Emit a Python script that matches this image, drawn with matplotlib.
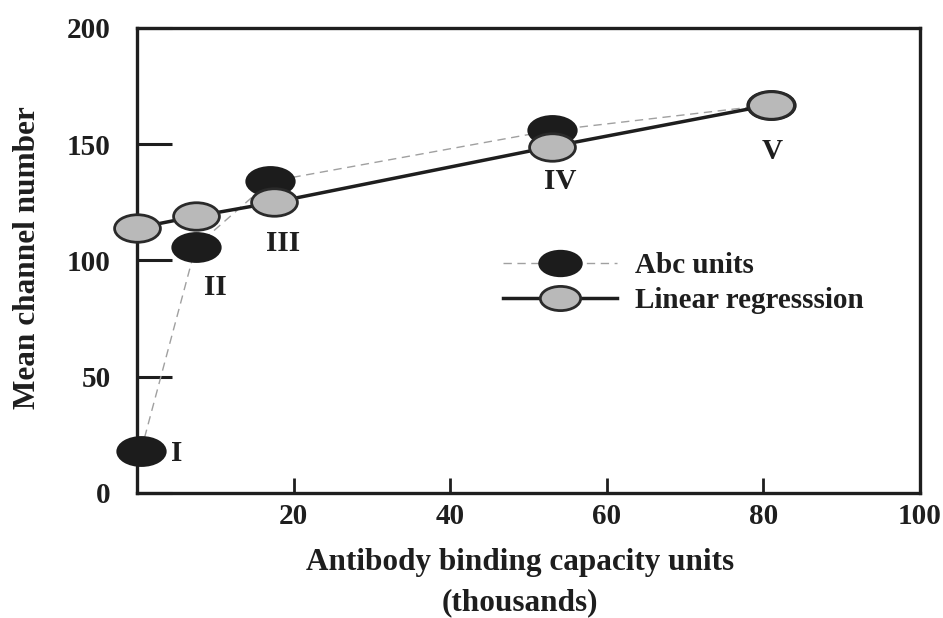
import matplotlib
matplotlib.use('Agg')
import matplotlib.pyplot as plt
from matplotlib.path import Path
from matplotlib.transforms import Affine2D

plt.rcParams['font.family'] = 'Liberation Serif'
plt.rcParams['font.weight'] = 'bold'
plt.rcParams['axes.labelweight'] = 'bold'

# antibody binding capacity (thousands) and mean channel number
abc_x = [0.5, 7.5, 17, 53, 81]
abc_y = [18, 106, 134, 156, 167]
reg_x = [0, 7.5, 17.5, 53, 81]
reg_y = [114, 119, 125, 149, 167]

# bead population names and where they are written
point_labels = ['I', 'II', 'III', 'IV', 'V']
label_x = [5.1, 10.0, 18.6, 54.0, 81.1]
label_y = [17, 88.5, 107.5, 134, 147]

x_ticks = [20, 40, 60, 80, 100]
y_ticks = [0, 50, 100, 150, 200]

ink = '#1e1e1e'
fs = 21
# flattened circle used as the marker shape
oval = Path.unit_circle().transformed(Affine2D().scale(1, 0.6))

fig = plt.figure(figsize=(9.43, 6.18), dpi=100)
ax = fig.add_axes([0.1453, 0.2023, 0.8303, 0.7524])

ax.plot(abc_x, abc_y, color='#a0a0a0', lw=1.0, dashes=(6, 4),
        marker=oval, ms=35, mfc='#1c1c1c', mec='#1c1c1c', mew=1.2,
        label='Abc units', clip_on=False, zorder=3)
ax.plot(reg_x, reg_y, color=ink, lw=2.5,
        marker=oval, ms=33, mfc='#b9b9b9', mec='#2a2a2a', mew=2.0,
        label='Linear regresssion', clip_on=False, zorder=4)

for lx, ly, txt in zip(label_x, label_y, point_labels):
    ax.text(lx, ly, txt, fontsize=fs, color=ink, ha='center', va='center')

ax.set_xlim(0, 100)
ax.set_ylim(0, 200)
ax.set_xticks(x_ticks)
ax.set_yticks(y_ticks)
ax.tick_params(axis='y', direction='in', length=25, width=2.2, colors=ink,
               labelsize=fs, pad=19)
ax.tick_params(axis='x', direction='in', length=11, width=2.0, colors=ink,
               labelsize=fs, pad=7)
for s in ax.spines.values():
    s.set_linewidth(2.4)
    s.set_color(ink)

ax.set_xlabel('Antibody binding capacity units\n(thousands)', fontsize=22.5,
              color=ink, linespacing=1.5)
ax.xaxis.set_label_coords(0.489, -0.118)
ax.set_ylabel('Mean channel number', fontsize=22.5, color=ink)
ax.yaxis.set_label_coords(-0.121, 0.507)

ax.legend(loc='upper left', bbox_to_anchor=(0.4674, 0.518), frameon=False,
          fontsize=fs, handlelength=3.9, handletextpad=0.62, labelspacing=0.28,
          borderpad=0, borderaxespad=0, markerscale=0.88, labelcolor=ink)

fig.savefig('out.png', dpi=100, facecolor='white')
